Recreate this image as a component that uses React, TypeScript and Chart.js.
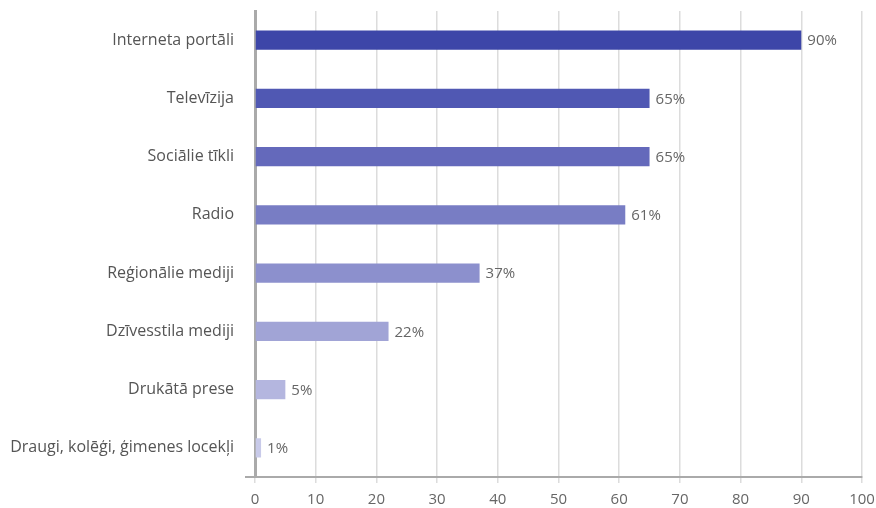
import React, { useEffect, useRef } from "react";
import { Chart, registerables } from "chart.js";

Chart.register(...registerables);

const categories = [
  "Interneta portāli",
  "Televīzija",
  "Sociālie tīkli",
  "Radio",
  "Reģionālie mediji",
  "Dzīvesstila mediji",
  "Drukātā prese",
  "Draugi, kolēģi, ģimenes locekļi",
];
const values = [90, 65, 65, 61, 37, 22, 5, 1];
const barColors = [
  "#3d46a8",
  "#5058b3",
  "#6469bb",
  "#787dc4",
  "#8c90cd",
  "#a1a4d6",
  "#b4b6df",
  "#c8cae9",
];
const xTickMin = 0;
const xTickMax = 100;
const xTickStep = 10;

const FONT = "'Open Sans', sans-serif";

const labelPlugin = {
  id: "barLabels",
  afterDatasetsDraw(chart: any) {
    const ctx = chart.ctx;
    const meta = chart.getDatasetMeta(0);
    ctx.save();
    ctx.font = `15px ${FONT}`;
    ctx.fillStyle = "#666";
    ctx.textAlign = "left";
    ctx.textBaseline = "middle";
    meta.data.forEach((el: any, i: number) => {
      ctx.fillText(values[i] + "%", el.x + 6, el.y + 1);
    });
    const area = chart.chartArea;
    ctx.strokeStyle = "#aaa";
    ctx.lineWidth = 2;
    ctx.beginPath();
    ctx.moveTo(area.left - 10, area.bottom);
    ctx.lineTo(area.left, area.bottom);
    ctx.stroke();
    ctx.restore();
  },
};

export default function App() {
  const ref = useRef<HTMLCanvasElement>(null);
  useEffect(() => {
    const chart = new Chart(ref.current!, {
      type: "bar",
      data: {
        labels: categories,
        datasets: [
          {
            data: values,
            backgroundColor: barColors,
            barPercentage: 0.33,
            categoryPercentage: 1,
          },
        ],
      },
      options: {
        indexAxis: "y",
        responsive: false,
        animation: false,
        layout: { padding: { top: 11, right: 14, left: 0, bottom: 0 } },
        plugins: { legend: { display: false }, tooltip: { enabled: false } },
        scales: {
          x: {
            min: xTickMin,
            max: xTickMax,
            ticks: {
              stepSize: xTickStep,
              color: "#666",
              font: { family: FONT, size: 15 },
              padding: 8,
            },
            grid: {
              color: "#dcdcdc",
              lineWidth: 1.5,
              tickLength: 6,
            },
            border: { color: "#aaa", width: 2 },
            afterFit: (s: any) => {
              s.height = 31;
              s.paddingLeft = 0;
              s.paddingRight = 0;
            },
          },
          y: {
            ticks: {
              color: "#555",
              font: { family: FONT, size: 16 },
              padding: 13,
            },
            grid: { display: false },
            border: { color: "#aaa", width: 3 },
            afterFit: (s: any) => {
              s.width = 255;
              s.paddingTop = 0;
              s.paddingBottom = 0;
            },
          },
        },
      },
      plugins: [labelPlugin],
    });
    return () => chart.destroy();
  }, []);
  return (
    <div style={{ position: "absolute", left: 0, top: 0, width: 876, height: 508 }}>
      <canvas ref={ref} width={876} height={508} />
    </div>
  );
}
